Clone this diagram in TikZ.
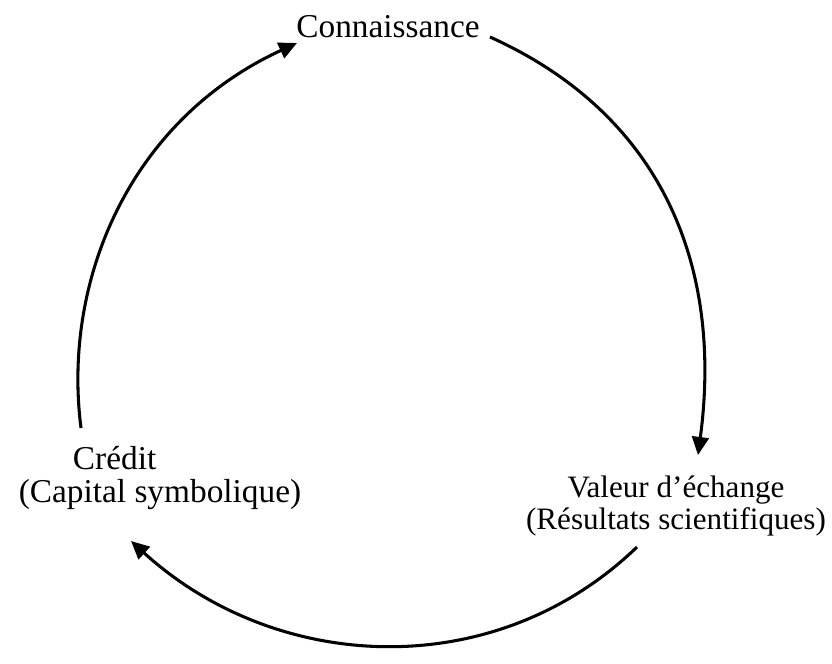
\documentclass[tikz,border=0pt]{standalone}
\usepackage{fontspec}
\setmainfont{Liberation Serif}
\usetikzlibrary{arrows.meta}
\tikzset{
	label text/.style={font=\fontsize{12}{11.6}\selectfont, inner sep=0pt},
	cycle arrow/.style={line width=1.1pt, -{Triangle[length=6.5pt,width=6pt]}}
}
\begin{document}
\begin{tikzpicture}[x=0.36pt, y=-0.36pt]
		\useasboundingbox (0,0) rectangle (832,663);
		% labels of the cycle
		\node[label text] (know) at (388, 27) {Connaissance};
		\node[label text, font=\fontsize{11.2}{11.6}\selectfont, align=center] (value) at (676, 506) {Valeur d’échange\\(Résultats scientifiques)};
		\node[label text, align=left] (credit) at (160, 478) {\hspace*{19.5pt}Crédit\\(Capital symbolique)};
		% ends of the arcs
		\coordinate (know out) at (490, 37);
		\coordinate (value in) at (698, 455);
		\coordinate (value out) at (637, 547);
		\coordinate (credit in) at (131, 541);
		\coordinate (credit out) at (81, 428);
		\coordinate (know in) at (297, 43);
		% arcs
		\draw[cycle arrow] (know out) .. controls (663, 115) and (723, 267) .. (value in);
		\draw[cycle arrow] (value out) .. controls (495, 684) and (277, 674) .. (credit in);
		\draw[cycle arrow] (credit out) .. controls (62, 280) and (130, 120) .. (know in);
	\end{tikzpicture}
\end{document}
